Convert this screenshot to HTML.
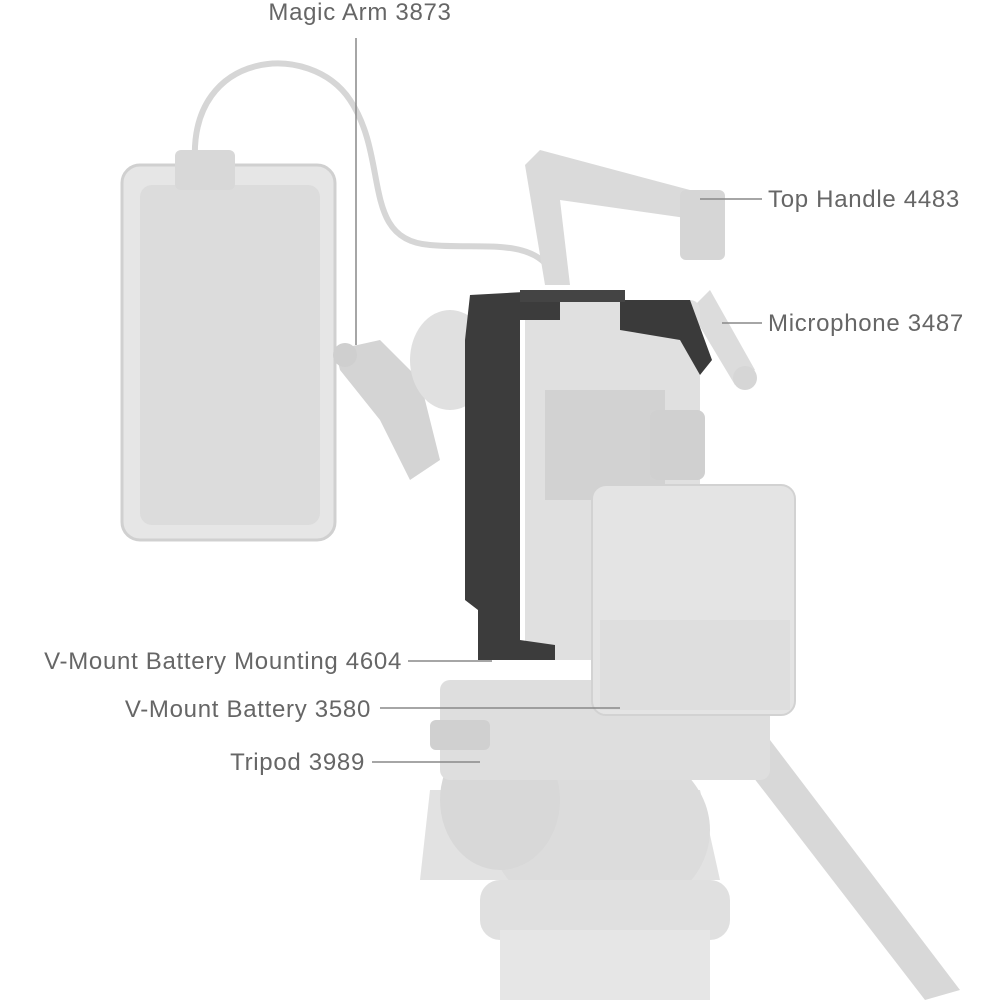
<!DOCTYPE html>
<html><head><meta charset="utf-8">
<style>
html,body{margin:0;padding:0;background:#fff;}
svg{display:block;}
text{font-family:"Liberation Sans","DejaVu Sans",sans-serif;font-size:24px;fill:#666;letter-spacing:0.7px;}
</style></head>
<body>
<svg width="1000" height="1000" viewBox="0 0 1000 1000" xmlns="http://www.w3.org/2000/svg">
<!-- cable -->
<path d="M195 160 C190 50 310 40 350 100 C390 160 360 240 430 245 C480 250 540 235 555 280" fill="none" stroke="#d6d6d6" stroke-width="6"/>
<!-- tripod -->
<path d="M430 790 L700 790 L720 880 L420 880 Z" fill="#e2e2e2"/>
<ellipse cx="600" cy="830" rx="110" ry="90" fill="#dcdcdc"/>
<ellipse cx="500" cy="800" rx="60" ry="70" fill="#d8d8d8"/>
<rect x="480" y="880" width="250" height="60" rx="20" fill="#e0e0e0"/>
<rect x="500" y="930" width="210" height="70" fill="#e6e6e6"/>
<path d="M740 760 L770 740 L960 990 L925 1000 Z" fill="#d8d8d8"/>
<rect x="440" y="680" width="330" height="100" rx="10" fill="#dedede"/>
<rect x="430" y="720" width="60" height="30" rx="6" fill="#d0d0d0"/>
<!-- monitor -->
<rect x="122" y="165" width="213" height="375" rx="18" fill="#e6e6e6" stroke="#d0d0d0" stroke-width="3"/>
<rect x="140" y="185" width="180" height="340" rx="12" fill="#dcdcdc"/>
<rect x="175" y="150" width="60" height="40" rx="6" fill="#d8d8d8"/>
<!-- magic arm -->
<path d="M335 350 L380 340 L420 380 L440 460 L410 480 L380 420 L340 370 Z" fill="#d4d4d4"/>
<circle cx="345" cy="355" r="12" fill="#cfcfcf"/>
<ellipse cx="450" cy="360" rx="40" ry="50" fill="#e0e0e0"/>
<!-- top handle -->
<path d="M525 165 L540 150 L690 190 L700 220 L560 200 L570 285 L545 285 Z" fill="#dadada"/>
<rect x="680" y="190" width="45" height="70" rx="6" fill="#d6d6d6"/>
<!-- microphone -->
<path d="M690 310 L710 290 L755 370 L735 385 Z" fill="#dcdcdc"/>
<circle cx="745" cy="378" r="12" fill="#d6d6d6"/>
<!-- camera body -->
<rect x="525" y="300" width="175" height="360" rx="10" fill="#e0e0e0"/>
<rect x="545" y="390" width="120" height="110" fill="#d2d2d2"/>
<rect x="650" y="410" width="55" height="70" rx="8" fill="#d0d0d0"/>
<!-- dark cage -->
<path d="M470 295 L560 290 L560 320 L520 320 L520 640 L555 645 L555 660 L478 660 L478 610 L465 600 L465 340 Z" fill="#3c3c3c"/>
<path d="M620 300 L690 300 L712 360 L700 375 L680 340 L620 330 Z" fill="#3a3a3a"/>
<rect x="520" y="290" width="105" height="12" fill="#444"/>
<!-- battery -->
<rect x="592" y="485" width="203" height="230" rx="14" fill="#e4e4e4" stroke="#d2d2d2" stroke-width="2"/>
<rect x="600" y="620" width="190" height="90" fill="#dedede"/>
<!-- leader lines -->
<g stroke="#888" stroke-width="1.5">
<line x1="356" y1="38" x2="356" y2="345"/>
<line x1="700" y1="199" x2="762" y2="199"/>
<line x1="722" y1="323" x2="762" y2="323"/>
<line x1="408" y1="661" x2="492" y2="661"/>
<line x1="380" y1="708" x2="620" y2="708"/>
<line x1="372" y1="762" x2="480" y2="762"/>
</g>
<text x="360" y="20" text-anchor="middle">Magic Arm 3873</text>
<text x="768" y="207">Top Handle 4483</text>
<text x="768" y="331">Microphone 3487</text>
<text x="402" y="669" text-anchor="end">V-Mount Battery Mounting 4604</text>
<text x="371" y="717" text-anchor="end">V-Mount Battery 3580</text>
<text x="365" y="770" text-anchor="end">Tripod 3989</text>
</svg>
</body></html>
